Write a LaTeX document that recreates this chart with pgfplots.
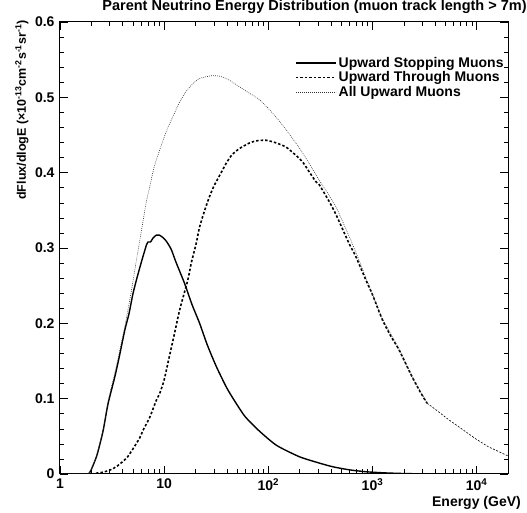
\documentclass[border=0pt]{standalone}
\usepackage{pgfplots}
\pgfplotsset{compat=1.18}
\usepackage{fontspec}
\setmainfont{Liberation Sans}
\newcommand{\lf}{\fontsize{14bp}{16bp}\selectfont\bfseries}
\newcommand{\tf}{\fontsize{14.5bp}{16bp}\selectfont\bfseries}
\newcommand{\yf}{\fontsize{12.5bp}{14bp}\selectfont\bfseries}
\begin{document}
\begin{tikzpicture}
\begin{axis}[
  name=ax,
  scale only axis,
  width=448bp, height=452bp,
  xmode=log, log basis x=10,
  xmin=1, xmax=20000,
  ymin=0, ymax=0.6,
  xtick={1,10,100,1000,10000},
  xticklabels={1,10,10\textsuperscript{2},10\textsuperscript{3},10\textsuperscript{4}},
  minor xtick={2,3,4,5,6,7,8,9,20,30,40,50,60,70,80,90,200,300,400,500,600,700,800,900,2000,3000,4000,5000,6000,7000,8000,9000},
  ytick={0,0.1,0.2,0.3,0.4,0.5,0.6},
  yticklabels={0,0.1,0.2,0.3,0.4,0.5,0.6},
  minor ytick={0.02,0.04,0.06,0.08,0.12,0.14,0.16,0.18,0.22,0.24,0.26,0.28,0.32,0.34,0.36,0.38,0.42,0.44,0.46,0.48,0.52,0.54,0.56,0.58},
  tick align=inside,
  major tick length=8bp,
  minor tick length=4.5bp,
  every tick/.style={black, line width=0.5bp},
  axis line style={line width=1bp},
  /pgf/number format/assume math mode=true,
  tick label style={font=\lf},
  xticklabel style={yshift=-1bp},
  yticklabel style={xshift=-2bp},
  title={Parent Neutrino Energy Distribution (muon track length \textgreater{} 7m)},
  title style={at={(axis description cs:1.042,1.013)}, anchor=base east, font=\tf, inner sep=0pt},
  xlabel={Energy (GeV)},
  xlabel style={at={(axis description cs:1.029,-0.071)}, anchor=base east, font=\lf, inner sep=0pt},
  ylabel={dFlux/dlogE (\texttimes10\textsuperscript{-13}cm\textsuperscript{-2}s\textsuperscript{-1}sr\textsuperscript{-1})},
  ylabel style={at={(axis description cs:-0.085,1.004)}, anchor=east, font=\yf, inner sep=0pt},
  legend style={draw=none, fill=none, at={(axis description cs:0.995,0.927)}, anchor=north east,
    font=\lf, row sep=-1.2bp, inner sep=0pt},
  legend cell align=left,
  legend image code/.code={\draw[#1] (0bp,0bp) -- (40bp,0bp);},
]
\addplot[black, line width=1.4bp, smooth, tension=0.4] coordinates {
(1,0) (1.8,0) (1.9,0.001) (2.0,0.006) (2.24,0.023) (2.4,0.038) (2.6,0.058) (2.8,0.083)
(2.9,0.094) (3.1,0.110) (3.36,0.129) (3.7,0.155) (4.19,0.191) (4.6,0.213) (5.03,0.240)
(5.6,0.265) (6.27,0.289) (6.8,0.305) (7.0,0.308) (7.4,0.308) (7.8,0.313) (8.4,0.317)
(9.0,0.317) (9.7,0.314) (10.5,0.309) (11.7,0.298) (13.0,0.281) (15.7,0.253) (18.5,0.225)
(21.9,0.200) (26,0.171) (31.6,0.143) (40,0.114) (49,0.094) (60,0.076) (82,0.057)
(120,0.038) (198,0.023) (300,0.015) (412,0.0097) (600,0.0055) (861,0.003) (1300,0.0015)
(2000,0.0006) (3000,0.0002) (5000,0) (20000,0)
};
\addlegendentry{Upward Stopping Muons}
\addplot[black, line width=1.6bp, dash pattern=on 2.5bp off 2bp, smooth, tension=0.4] coordinates {
(1,0) (2.0,0) (2.2,0.001) (2.5,0.002) (3.0,0.005) (3.5,0.010) (4.35,0.021) (5.0,0.033)
(5.83,0.048) (6.27,0.058) (7.26,0.075) (8.42,0.098) (9.06,0.107) (10.0,0.125) (11.3,0.158)
(12.5,0.185) (14.1,0.218) (16.9,0.258) (18.2,0.280) (20.3,0.306) (21.9,0.328) (24.5,0.350)
(27.2,0.368) (30.0,0.382) (34,0.396) (40,0.414) (45,0.424) (52.8,0.432) (65,0.439)
(75,0.442) (88,0.443) (95,0.443) (110,0.441) (127,0.438) (148,0.434) (184,0.423)
(214,0.414) (250,0.400) (286,0.388) (308,0.384) (383,0.362) (444,0.345) (596,0.306)
(690,0.289) (861,0.258) (1000,0.238) (1242,0.205) (1500,0.183) (1795,0.165) (2400,0.129)
(2900,0.108) (3340,0.094)
};
\addlegendentry{Upward Through Muons}
\addplot[black!80, line width=0.6bp, dash pattern=on 0.8bp off 1.2bp, smooth, tension=0.4] coordinates {
(1,0) (1.8,0) (1.9,0.001) (2.0,0.006) (2.24,0.024) (2.6,0.060) (2.9,0.097) (3.36,0.134)
(3.8,0.168) (4.19,0.196) (4.8,0.240) (5.42,0.284) (6.1,0.326) (6.76,0.362) (7.26,0.381) (8.0,0.407) (9.06,0.430) (10.5,0.455) (12.1,0.474) (14,0.493) (16.3,0.508)
(18.8,0.518) (21.9,0.525) (28.3,0.5286) (34,0.528) (40.8,0.524) (52.8,0.514) (65,0.506) (82,0.497) (110,0.479)
(148,0.457) (214,0.426) (308,0.390) (444,0.355) (690,0.295) (861,0.261) (1242,0.207)
(1795,0.166) (2400,0.130) (3340,0.094)
};
\addlegendentry{All Upward Muons}
\addplot[black, line width=0.6bp, dash pattern=on 2bp off 1.5bp, forget plot] coordinates {
(3340,0.094) (4000,0.086) (5400,0.072) (7000,0.061) (9700,0.047) (13000,0.036) (20000,0.024)
};
\end{axis}
\pgfresetboundingbox
\path ([xshift=-60bp,yshift=-39bp]ax.south west) rectangle ([xshift=19bp,yshift=22bp]ax.north east);
\end{tikzpicture}
\end{document}
